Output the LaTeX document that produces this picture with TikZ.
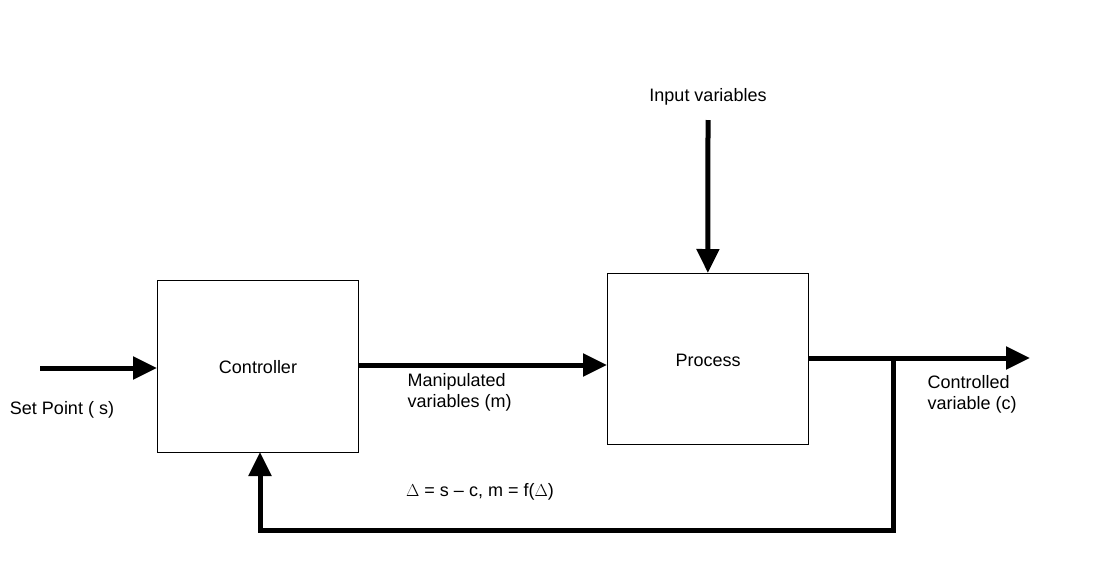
\documentclass[tikz,border=0pt]{standalone}
\usepackage{fontspec}
\setmainfont{Liberation Sans}
\usetikzlibrary{arrows.meta}
\begin{document}
\begin{tikzpicture}[x=1pt,y=-1pt,
  blk/.style={draw,line width=0.8pt,minimum width=201pt,inner sep=0pt,anchor=north west},
  flow/.style={line width=5pt,-{Triangle[length=24pt,width=22pt]}},
  lbl/.style={font=\fontsize{18}{21}\selectfont,align=left}]
\useasboundingbox (0,0) rectangle (1107,578);
\node[blk,minimum height=172pt] (ctrl) at (157,280) {};
\node[lbl] at (258,367) {Controller};
\node[blk,minimum height=171pt] (proc) at (607,273) {};
\node[lbl] at (708,360) {Process};
\coordinate (sp) at (40,368);
\draw[flow] (sp) -- (sp -| ctrl.west);
\draw[flow] (358,365) -- (607,365);
\coordinate (iv) at (708,120);
\draw[flow] (iv) -- (proc.north);
\coordinate (out) at (1030,358);
\draw[flow] (808,358) -- (out);
\coordinate (fb1) at (893,358);
\coordinate (fb2) at (893,530);
\coordinate (fb3) at (260,530);
\draw[line width=5pt,line join=miter] (fb1) -- (fb2) -- (fb3) -- (260,470);
\draw[flow] (260,480) -- (260,452);
\node[lbl] at (708,97) {Input variables};
\node[lbl] at (62,410) {Set Point ( s)};
\node[lbl,anchor=north west] at (404,370) {Manipulated\\variables (m)};
\node[lbl,anchor=north west] at (924,372) {Controlled\\variable (c)};
\node[lbl] at (480,492) {$\Delta$ = s -- c, m = f($\Delta$)};
\end{tikzpicture}
\end{document}
